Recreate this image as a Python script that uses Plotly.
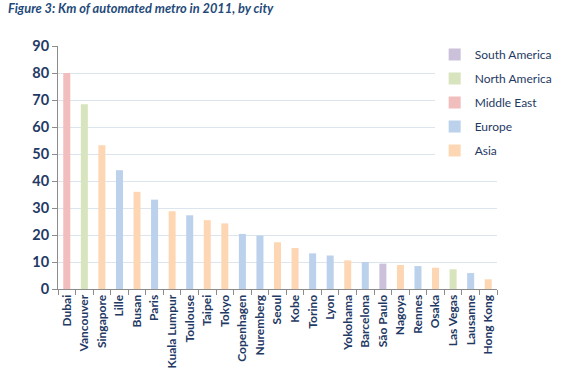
import plotly.graph_objects as go

cities = ["Dubai", "Vancouver", "Singapore", "Lille", "Busan", "Paris", "Kuala Lumpur",
          "Toulouse", "Taipei", "Tokyo", "Copenhagen", "Nuremberg", "Seoul", "Kobe",
          "Torino", "Lyon", "Yokohama", "Barcelona", "São Paulo", "Nagoya", "Rennes",
          "Osaka", "Las Vegas", "Lausanne", "Hong Kong"]
km = [80, 68.4, 53.2, 44, 36, 33.1, 28.8, 27.3, 25.5, 24.3, 20.4, 19.8, 17.3, 15.2,
      13.2, 12.4, 10.6, 10, 9.4, 8.9, 8.5, 7.9, 7.3, 5.9, 3.6]
regions = ["Middle East", "North America", "Asia", "Europe", "Asia", "Europe", "Asia",
           "Europe", "Asia", "Asia", "Europe", "Europe", "Asia", "Asia",
           "Europe", "Europe", "Asia", "Europe", "South America", "Asia", "Europe",
           "Asia", "North America", "Europe", "Asia"]
legend_order = ["South America", "North America", "Middle East", "Europe", "Asia"]
colors = {"South America": "#CCC1DA", "North America": "#D7E4BD", "Middle East": "#F2BDBD",
          "Europe": "#BCD1EC", "Asia": "#FDD7B4"}

txt = "#1F3A64"
fig = go.Figure()
for r in legend_order:
    xs = [c for c, rr in zip(cities, regions) if rr == r]
    ys = [v for v, rr in zip(km, regions) if rr == r]
    fig.add_trace(go.Bar(x=xs, y=ys, name=r, legendgroup=r,
                         marker=dict(color=colors[r], line=dict(width=0))))

fig.update_layout(
    width=570, height=388,
    margin=dict(l=58, r=13, t=46, b=99),
    plot_bgcolor="white", paper_bgcolor="white",
    barmode="overlay", bargap=0.6,
    font=dict(family="Lato", color=txt),
    title=dict(text="<b><i>Figure 3: Km of automated metro in 2011, by city</i></b>",
               x=0.014, xanchor="left", y=0.99, yanchor="top",
               font=dict(size=12.8, color="#1F4A7A")),
    legend=dict(x=0.858, xanchor="left", y=1.025, yanchor="top", bgcolor="white",
                font=dict(size=12, color=txt), traceorder="grouped",
                tracegroupgap=5, itemsizing="constant", itemwidth=30),
    showlegend=True,
)
fig.update_xaxes(categoryorder="array", categoryarray=cities, tickangle=-90,
                 tickfont=dict(size=12, color=txt, family="Lato"),
                 tickprefix="<b>", ticksuffix="</b>",
                 showline=True, linecolor="#8C8C8C", linewidth=1, automargin=False,
                 ticks="outside", tickson="boundaries", ticklen=5, tickcolor="#8C8C8C",
                 showgrid=False)
fig.update_yaxes(range=[0, 90], dtick=10, tickfont=dict(size=14.5, color=txt),
                 tickprefix="<b>", ticksuffix="</b>", automargin=False,
                 showline=True, linecolor="#8C8C8C", linewidth=1,
                 ticks="outside", ticklen=5, tickcolor="#8C8C8C",
                 gridcolor="#DCE4EE", gridwidth=1, zeroline=False)
fig.write_html("out.html", config={"displayModeBar": False},
               post_script="document.body.style.margin='0';")
